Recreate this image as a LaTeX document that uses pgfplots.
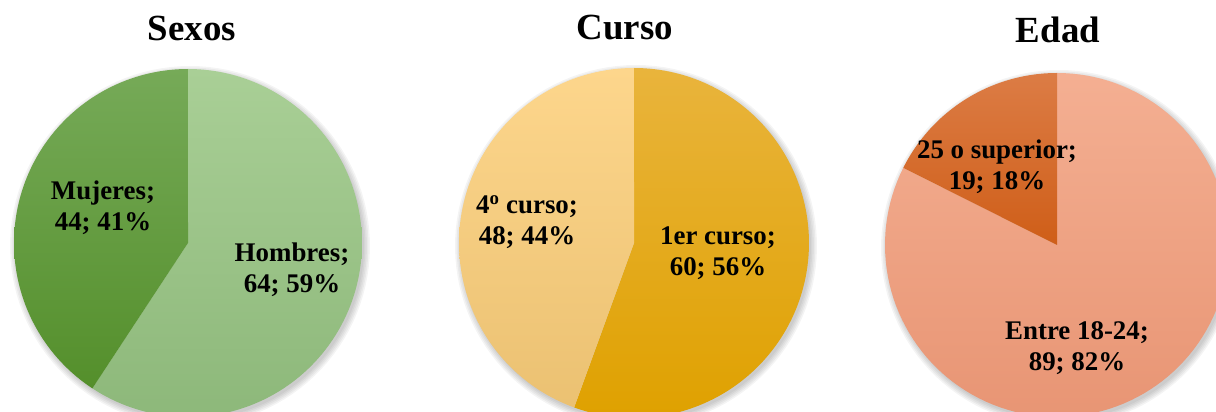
\documentclass[border=0pt]{standalone}
\usepackage{pgfplots}
\pgfplotsset{compat=1.18}
\usepackage{fontspec}
\setmainfont{Liberation Serif}
% data
\def\sH{64}\def\sM{44}
\def\cA{60}\def\cB{48}
\def\eA{89}\def\eB{19}
\pgfmathsetmacro\aS{\sH/(\sH+\sM)*360}
\pgfmathsetmacro\aC{\cA/(\cA+\cB)*360}
\pgfmathsetmacro\aE{\eA/(\eA+\eB)*360}
\definecolor{hTop}{HTML}{A9CF96}\definecolor{hBot}{HTML}{8DB87A}
\definecolor{mTop}{HTML}{76AA58}\definecolor{mBot}{HTML}{548F2B}
\definecolor{c1Top}{HTML}{E9B43C}\definecolor{c1Bot}{HTML}{DFA100}
\definecolor{c4Top}{HTML}{FDD68C}\definecolor{c4Bot}{HTML}{EBC172}
\definecolor{eTop}{HTML}{F4AF92}\definecolor{eBot}{HTML}{E89574}
\definecolor{sTop}{HTML}{DC7C45}\definecolor{sBot}{HTML}{CF5E18}
\newcommand\slice[7]{%
\addplot[draw=none, top color=#6, bottom color=#7, domain=#4:#5, samples=120]
 ({#1+#3*sin(x)},{#2+#3*cos(x)}) -- (axis cs:#1,#2) -- cycle;}
\newcommand\shadowring[4]{%
\addplot[draw=none, fill=black, fill opacity=0.045, domain=0:360, samples=120]
 ({#1+2+(#3+#4)*sin(x)},{#2-3+(#3+#4)*cos(x)}) -- cycle;}
\newcommand\shadow[3]{%
\shadowring{#1}{#2}{#3}{6}\shadowring{#1}{#2}{#3}{4.5}%
\shadowring{#1}{#2}{#3}{3}\shadowring{#1}{#2}{#3}{1.5}\shadowring{#1}{#2}{#3}{0}}
\begin{document}
\begin{tikzpicture}
\useasboundingbox (0,0) rectangle (1216bp,412bp);
\begin{axis}[width=1216bp,height=412bp,scale only axis,at={(0,0)},anchor=south west,
 xmin=0,xmax=1216,ymin=0,ymax=412,hide axis,clip=true]
\shadow{188}{169}{174}
\shadow{634}{169}{175}
\shadow{1057}{167}{172}
% Sexos
\slice{188}{169}{174}{0}{\aS}{hTop}{hBot}
\slice{188}{169}{174}{\aS}{360}{mTop}{mBot}
% Curso
\slice{634}{169}{175}{0}{\aC}{c1Top}{c1Bot}
\slice{634}{169}{175}{\aC}{360}{c4Top}{c4Bot}
% Edad
\slice{1057}{167}{172}{0}{\aE}{eTop}{eBot}
\slice{1057}{167}{172}{\aE}{360}{sTop}{sBot}
% titles
\tikzset{ttl/.style={font=\fontsize{37}{42}\selectfont\bfseries,inner sep=0pt}}
\node[ttl] at (axis cs:192,384) {Sexos};
\node[ttl] at (axis cs:625,384) {Curso};
\node[ttl] at (axis cs:1058,382) {Edad};
% labels
\tikzset{lab/.style={font=\fontsize{27}{31}\selectfont\bfseries,align=center,inner sep=0pt}}
\node[lab] at (axis cs:103,204) {Mujeres;\\44; 41\%};
\node[lab] at (axis cs:292,142) {Hombres;\\64; 59\%};
\node[lab] at (axis cs:527,190) {4\textsuperscript{o} curso;\\48; 44\%};
\node[lab] at (axis cs:718,159) {1er curso;\\60; 56\%};
\node[lab] at (axis cs:997,245) {25 o superior;\\19; 18\%};
\node[lab] at (axis cs:1077,64) {Entre 18-24;\\89; 82\%};
\end{axis}
\end{tikzpicture}
\end{document}
